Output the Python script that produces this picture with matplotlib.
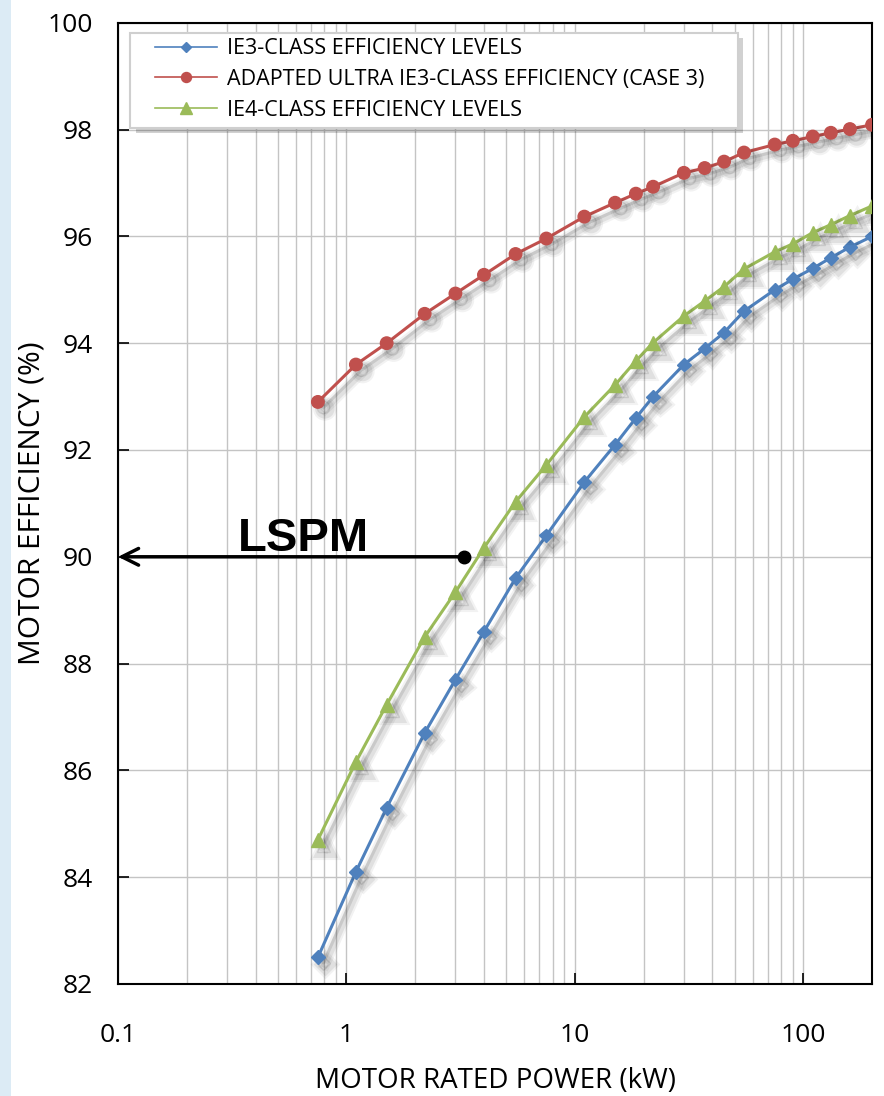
import numpy as np
import matplotlib
matplotlib.use("Agg")
import matplotlib.pyplot as plt
import matplotlib.patheffects as pe
from matplotlib.patches import Rectangle
from matplotlib.ticker import FixedLocator, LogLocator, NullFormatter

plt.rcParams['font.family'] = ['Open Sans', 'DejaVu Sans']

power_kw = [0.75, 1.1, 1.5, 2.2, 3, 4, 5.5, 7.5, 11, 15, 18.5, 22,
            30, 37, 45, 55, 75, 90, 110, 132, 160, 200]
ie3_eff = [82.5, 84.1, 85.3, 86.7, 87.7, 88.6, 89.6, 90.4, 91.4, 92.1, 92.6, 93.0,
           93.6, 93.9, 94.2, 94.6, 95.0, 95.2, 95.4, 95.6, 95.8, 96.0]
ultra_ie3_eff = [92.9, 93.6, 94.0, 94.55, 94.93, 95.28, 95.67, 95.96, 96.37, 96.63, 96.8, 96.93,
                 97.19, 97.28, 97.4, 97.57, 97.72, 97.79, 97.87, 97.94, 98.01, 98.09]
ie4_eff = [84.7, 86.16, 87.23, 88.5, 89.34, 90.17, 91.03, 91.72, 92.62, 93.22, 93.67, 94.01,
           94.51, 94.79, 95.06, 95.39, 95.71, 95.86, 96.07, 96.22, 96.39, 96.57]

series_labels = ["IE3-CLASS EFFICIENCY LEVELS",
                 "ADAPTED ULTRA IE3-CLASS EFFICIENCY (CASE 3)",
                 "IE4-CLASS EFFICIENCY LEVELS"]
x_ticks = [0.1, 1, 10, 100]
x_tick_labels = ["0.1", "1", "10", "100"]
y_ticks = [82, 84, 86, 88, 90, 92, 94, 96, 98, 100]

lspm_start = 3.27
lspm_level = 90

fig = plt.figure(figsize=(8.84, 10.96), dpi=100)
ax = fig.add_axes([0.1335, 0.1022, 0.853, 0.877])

# light blue strip on the left edge
fig.patches.append(Rectangle((0, 0), 0.012, 1, transform=fig.transFigure,
                             facecolor='#dcebf5', edgecolor='none', zorder=0))

def shadowed():
    # soft drop shadow, a few passes to fake a blur
    return [pe.SimpleLineShadow(offset=(5, -5), shadow_color='k', alpha=0.05, linewidth=8),
            pe.SimpleLineShadow(offset=(5, -5), shadow_color='k', alpha=0.07, linewidth=5),
            pe.SimpleLineShadow(offset=(4, -4), shadow_color='k', alpha=0.10),
            pe.Normal()]

ax.plot(power_kw, ie3_eff, color='#4f81bd', marker='D', markersize=7, lw=2.2,
        label=series_labels[0], path_effects=shadowed(), zorder=4)
ax.plot(power_kw, ultra_ie3_eff, color='#c0504d', marker='o', markersize=9, lw=2.2,
        label=series_labels[1], path_effects=shadowed(), zorder=4)
ax.plot(power_kw, ie4_eff, color='#9bbb59', marker='^', markersize=10, lw=2.2,
        label=series_labels[2], path_effects=shadowed(), zorder=4)

ax.set_xscale('log')
ax.set_xlim(0.1, 200)
ax.set_ylim(82, 100)
ax.xaxis.set_major_locator(FixedLocator(x_ticks))
ax.set_xticklabels(x_tick_labels)
ax.xaxis.set_minor_locator(LogLocator(base=10, subs=np.arange(2, 10)))
ax.xaxis.set_minor_formatter(NullFormatter())
ax.set_yticks(y_ticks)

ax.grid(True, which='both', axis='x', color='#c4c4c4', lw=1)
ax.grid(True, which='major', axis='y', color='#c4c4c4', lw=1)
ax.set_axisbelow(True)

ax.tick_params(which='major', direction='in', length=8, width=1.2, labelsize=19)
ax.tick_params(which='minor', length=0)
ax.tick_params(axis='x', pad=28)
ax.tick_params(axis='y', pad=18)
for s in ax.spines.values():
    s.set_linewidth(1.5)

ax.set_xlabel("MOTOR RATED POWER (kW)", fontsize=20, labelpad=14)
ax.set_ylabel("MOTOR EFFICIENCY (%)", fontsize=21.5, va='center')
ax.yaxis.set_label_coords(-0.114, 0.5)

# LSPM arrow
ax.annotate("", xy=(0.1, lspm_level), xytext=(lspm_start, lspm_level),
            arrowprops=dict(arrowstyle='->', color='k', lw=2.5, mutation_scale=30,
                            shrinkA=0, shrinkB=0), zorder=5)
ax.plot([lspm_start], [lspm_level], 'o', color='k', markersize=9, zorder=6)
ax.text(0.65, 90.1, "LSPM", fontsize=34, fontweight='bold', family='Liberation Sans',
        ha='center', va='baseline', zorder=6)

# legend box drawn separately (wider side padding than matplotlib's legend gives)
box = Rectangle((0.0159, 0.8907), 0.806, 0.0989, transform=ax.transAxes,
                facecolor='white', edgecolor='#cfcfcf', lw=1.5, zorder=9,
                path_effects=[pe.withSimplePatchShadow(offset=(4, -4), shadow_rgbFace='k', alpha=0.18)])
ax.add_patch(box)

leg = ax.legend(loc='upper left', bbox_to_anchor=(0.049, 0.984), fontsize=15.5,
                frameon=False, borderpad=0, handlelength=2.9, handletextpad=0.45,
                labelspacing=0.45, borderaxespad=0)
leg.set_zorder(10)
for h in leg.legend_handles:
    h.set_linewidth(1.2)
    h.set_markersize(h.get_markersize() * 0.8)
    h.set_path_effects([])

fig.savefig("out.png", dpi=100)
